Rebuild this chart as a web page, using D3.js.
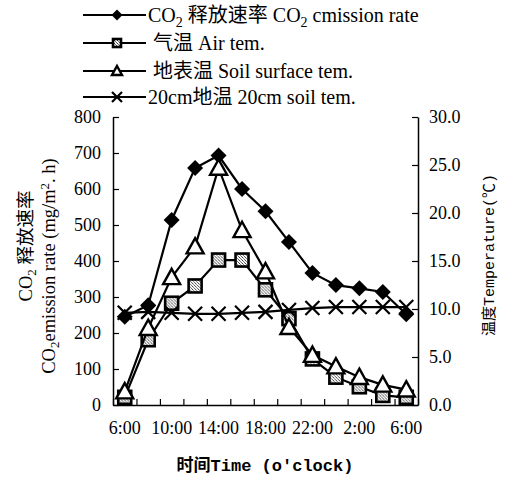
<!DOCTYPE html>
<html><head><meta charset="utf-8">
<script src="https://cdn.jsdelivr.net/npm/d3@7"></script>
<style>body{margin:0;background:#fff}svg{display:block}</style>
</head><body><svg id="c" width="506" height="478"></svg>
<script>
// ---- data ----
const times = ["6:00","8:00","10:00","12:00","14:00","16:00","18:00","20:00","22:00","0:00","2:00","4:00","6:00"];
const labelIdx = [0,2,4,6,8,10,12];
const co2 = [245,277,514,658,693,600,538,453,367,333,324,314,252];
const airTem = [0.8,6.8,10.6,12.4,15.1,15.1,12.0,9.0,4.8,2.9,1.9,1.0,0.8];
const surfTem = [1.4,8.0,13.3,16.5,24.7,18.2,13.9,8.1,5.2,4.0,2.9,2.1,1.6];
const soil20 = [9.6,9.7,9.6,9.5,9.5,9.6,9.7,9.9,10.1,10.2,10.2,10.2,10.2];
const leftTicks = [0,100,200,300,400,500,600,700,800];
const rightTicks = [0,5,10,15,20,25,30];

const svg = d3.select("#c");
const serif = "'Liberation Serif','Times New Roman',serif,'Noto Sans CJK SC'";
const L = 113, R = 418, T = 117, B = 405;

// pattern for square marker
const defs = svg.append("defs");
const pat = defs.append("pattern").attr("id","dots").attr("width",3).attr("height",3).attr("patternUnits","userSpaceOnUse");
pat.append("rect").attr("width",3).attr("height",3).attr("fill","#fff");
pat.append("rect").attr("x",0).attr("y",0).attr("width",1).attr("height",1).attr("fill","#333");
pat.append("rect").attr("x",1).attr("y",1).attr("width",1).attr("height",1).attr("fill","#777");
pat.append("rect").attr("x",2).attr("y",2).attr("width",1).attr("height",1).attr("fill","#555");

const idx = d3.range(times.length);
const x = d3.scaleBand().domain(idx).range([L,R]);
const xc = i => x(i) + x.bandwidth()/2;
const xb = d3.scaleLinear().domain([0,times.length]).range([L,R]);
const yL = d3.scaleLinear().domain([0,800]).range([B,T]);
const yR = d3.scaleLinear().domain([0,30]).range([B,T]);

// axes
const gL = svg.append("g").attr("transform",`translate(${L},0)`)
  .call(d3.axisLeft(yL).tickValues(leftTicks).tickSize(-6).tickSizeOuter(0).tickPadding(12));
const gR = svg.append("g").attr("transform",`translate(${R},0)`)
  .call(d3.axisRight(yR).tickValues(rightTicks).tickFormat(d3.format(".1f")).tickSize(-6).tickSizeOuter(0).tickPadding(11));
const gB = svg.append("g").attr("transform",`translate(0,${B})`)
  .call(d3.axisBottom(xb).tickValues(d3.range(times.length+1)).tickSize(-6).tickSizeOuter(0).tickFormat(""));
const gBL = svg.append("g").attr("transform",`translate(0,${B})`)
  .call(d3.axisBottom(x).tickValues(labelIdx).tickSize(0).tickPadding(16).tickFormat(i=>times[i]));
gBL.select(".domain").remove();
[gL,gR,gB,gBL].forEach(g=>{
  g.attr("font-family",null).attr("font-size",null);
  g.selectAll("path.domain").attr("stroke","#000").attr("stroke-width",1.5);
  g.selectAll("line").attr("stroke","#000").attr("stroke-width",1.2);
  g.selectAll("text").style("font-family",serif).style("font-size","18px").attr("fill","#000");
});

// markers
function diamond(g,s){ g.append("path").attr("d",`M0,${-s}L${s},0L0,${s}L${-s},0Z`).attr("fill","#000"); }
function square(g,s){ g.append("rect").attr("x",-s).attr("y",-s).attr("width",2*s).attr("height",2*s).attr("fill","url(#dots)").attr("stroke","#000").attr("stroke-width",2.6); }
function tri(g,s){ g.append("path").attr("d",`M0,${-s}L${s},${s*0.8}L${-s},${s*0.8}Z`).attr("fill","#fff").attr("stroke","#000").attr("stroke-width",2.4).attr("stroke-linejoin","miter"); }
function cross(g,s){ g.append("path").attr("d",`M${-s},${-s}L${s},${s}M${-s},${s}L${s},${-s}`).attr("stroke","#000").attr("stroke-width",2.2).attr("fill","none"); }

const series = [
  {vals:co2, y:yL, mk:diamond, s:8, ls:5.5},
  {vals:airTem, y:yR, mk:square, s:6.5, ls:4},
  {vals:surfTem, y:yR, mk:tri, s:8.5, ls:5},
  {vals:soil20, y:yR, mk:cross, s:7, ls:5}
];
series.forEach(se=>{
  const line = d3.line().x((d,i)=>xc(i)).y(d=>se.y(d));
  svg.append("path").datum(se.vals).attr("d",line).attr("fill","none").attr("stroke","#000").attr("stroke-width",2.2);
  se.vals.forEach((v,i)=>{
    const g = svg.append("g").attr("transform",`translate(${xc(i)},${se.y(v)})`);
    se.mk(g,se.s);
  });
});

// legend
const legY = [15,43,71,97];
const legText = [
  [["CO",0],["2",1],[" 释放速率 CO",0],["2",1],[" cmission rate",0]],
  [[" 气温 Air tem.",0]],
  [[" 地表温 Soil surface tem.",0]],
  [["20cm地温 20cm soil tem.",0]]
];
series.forEach((se,k)=>{
  svg.append("line").attr("x1",83).attr("x2",146).attr("y1",legY[k]).attr("y2",legY[k]).attr("stroke","#000").attr("stroke-width",1.8);
  const g = svg.append("g").attr("transform",`translate(117,${legY[k]})`);
  se.mk(g,se.ls);
  const t = svg.append("text").attr("x",148).attr("y",legY[k]+7).style("font-family",serif).style("font-size","20px").style("white-space","pre");
  legText[k].forEach(([s,sub])=>{
    const ts = t.append("tspan").text(s);
    if(sub) ts.style("font-size","14px").attr("dy",5);
    else if(t.selectAll("tspan").size()>1) ts.attr("dy",-5);
  });
});

// left title
const t1 = svg.append("text").attr("transform","translate(32,246) rotate(-90)").attr("text-anchor","middle")
  .style("font-family",serif).style("font-size","18.5px").style("white-space","pre");
t1.append("tspan").text("CO");
t1.append("tspan").text("2").style("font-size","13px").attr("dy",4);
t1.append("tspan").text(" 释放速率").attr("dy",-4);
const t2 = svg.append("text").attr("transform","translate(55,266) rotate(-90)").attr("text-anchor","middle")
  .style("font-family",serif).style("font-size","18.5px").style("white-space","pre");
t2.append("tspan").text("CO");
t2.append("tspan").text("2").style("font-size","13px").attr("dy",4);
t2.append("tspan").text("emission rate (mg/m").attr("dy",-4);
t2.append("tspan").text("2").style("font-size","13px").attr("dy",-6);
t2.append("tspan").text(". h)").attr("dy",6);

// right title
svg.append("text").attr("transform","translate(494,255) rotate(-90)").attr("text-anchor","middle")
  .style("font-family","'Liberation Mono','Noto Sans CJK SC',monospace").style("font-size","15px").text("温度Temperature(℃)");

// x title
svg.append("text").attr("x",265).attr("y",471).attr("text-anchor","middle")
  .style("font-family","'Liberation Mono','Noto Sans CJK SC',monospace").style("font-weight","bold").style("font-size","17px").text("时间Time (o'clock)");
</script></body></html>
